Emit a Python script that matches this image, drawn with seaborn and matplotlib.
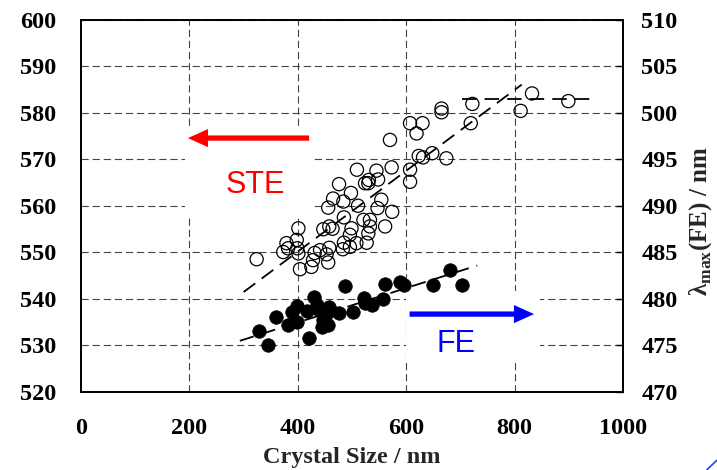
import matplotlib
matplotlib.use("Agg")
import matplotlib.pyplot as plt
import seaborn as sns
from matplotlib.patches import Rectangle, FancyArrowPatch
from matplotlib.lines import Line2D

# STE peak (left axis) vs crystal size
ste_size = [324, 373, 379, 382, 398, 401, 399, 401, 404, 425, 428, 431, 441, 447,
            453, 456, 458, 458, 464, 456, 465, 476, 484, 485, 483, 485, 496, 499,
            498, 496, 509, 511, 508, 521, 524, 530, 531, 527, 530, 533, 533, 545,
            548, 547, 554, 561, 570, 573, 574, 607, 607, 607, 619, 630, 623, 631,
            648, 674, 665, 665, 719, 722, 811, 832, 899]
ste_peak = [548.55, 550.1, 552.0, 550.9, 552.7, 555.2, 550.9, 549.8, 546.4, 546.9,
            548.35, 549.9, 550.5, 555.0, 549.6, 547.85, 551.0, 555.6, 555.1, 559.65,
            561.6, 564.7, 560.95, 557.55, 550.7, 552.1, 553.8, 555.2, 562.8, 551.2,
            567.8, 560.05, 552.0, 557.0, 564.9, 564.9, 565.6, 552.1, 554.1, 555.6,
            557.0, 567.6, 565.7, 559.55, 561.35, 555.6, 574.2, 568.3, 558.75, 567.8,
            565.2, 577.8, 575.6, 577.8, 570.75, 570.45, 571.35, 570.25, 580.95, 580.15,
            577.8, 581.95, 580.45, 584.2, 582.55]

# FE peak (right axis) vs crystal size
fe_size = [329, 345, 360, 381, 389, 398, 399, 417, 420, 429, 435, 438, 444, 447,
           456, 457, 460, 453, 476, 487, 501, 522, 524, 536, 557, 561, 588, 596,
           649, 681, 702]
fe_peak = [476.55, 475.05, 478.05, 477.15, 478.65, 479.25, 477.55, 478.75, 475.85,
           480.25, 479.35, 478.95, 476.95, 477.75, 477.15, 479.15, 478.85, 478.45,
           478.45, 481.35, 478.65, 480.1, 479.55, 479.35, 479.95, 481.65, 481.8,
           481.45, 481.45, 483.1, 481.55]

# trend lines
ste_fit_x = [300, 813]
ste_fit_y = [541.5, 586.1]
ste_flat_x = [702, 948]
ste_flat_y = [582.95, 582.95]
fe_fit_x = [293, 731]
fe_fit_y = [475.5, 483.6]

x_ticks = [0, 200, 400, 600, 800, 1000]
left_ticks = [520, 530, 540, 550, 560, 570, 580, 590, 600]
right_ticks = [470, 475, 480, 485, 490, 495, 500, 505, 510]

sns.set_theme(style="white")
plt.rcParams["font.family"] = ["Liberation Serif", "DejaVu Serif"]
plt.rcParams["font.weight"] = "bold"
plt.rcParams["mathtext.fontset"] = "custom"
plt.rcParams["mathtext.rm"] = "Liberation Serif"
plt.rcParams["mathtext.bf"] = "Liberation Serif:bold"

fig = plt.figure(figsize=(7.17, 4.70), dpi=100)
ax = fig.add_axes([0.113, 0.166, 0.756, 0.7915])
ax2 = ax.twinx()

grid_kw = dict(color="#444444", lw=0.8, linestyle=(0, (6.5, 3.5)))
ax.set_axisbelow(True)
ax.grid(True, axis="y", **grid_kw)
for xv in x_ticks[1:-1]:
    ax.axvline(xv, zorder=0.5, **grid_kw)

# white label boxes that hide the grid
ax.add_patch(Rectangle((192, 558.0), 238, 18.8, facecolor="white",
                       edgecolor="none", zorder=1))
ax.add_patch(Rectangle((600, 526.2), 246, 15.6, facecolor="white",
                       edgecolor="none", zorder=1))

sns.scatterplot(x=ste_size, y=ste_peak, ax=ax, marker="o", s=90,
                facecolor="none", edgecolor="black", linewidth=0.9, zorder=3)
sns.lineplot(x=ste_fit_x, y=ste_fit_y, ax=ax, color="black", lw=1.3,
             linestyle=(0, (8, 4.5)), zorder=2)
sns.lineplot(x=ste_flat_x, y=ste_flat_y, ax=ax, color="black", lw=1.3,
             linestyle=(0, (8, 4.5)), zorder=2)

sns.scatterplot(x=fe_size, y=fe_peak, ax=ax2, marker="o", s=95,
                color="black", edgecolor="black", linewidth=0.5, zorder=3)
sns.lineplot(x=fe_fit_x, y=fe_fit_y, ax=ax2, color="black", lw=1.3,
             linestyle=(0, (8, 4.5)), zorder=2)

ax.set_xlim(0, 1000)
ax.set_ylim(520, 600)
ax2.set_ylim(470, 510)
ax.set_xticks(x_ticks)
ax.set_yticks(left_ticks)
ax2.set_yticks(right_ticks)

for a in (ax, ax2):
    for sp in a.spines.values():
        sp.set_visible(True)
        sp.set_color("black")
        sp.set_linewidth(1.3)
ax.tick_params(axis="x", direction="in", length=5, width=1, pad=19,
               labelsize=17.5, colors="black")
ax.tick_params(axis="y", direction="in", length=0, pad=18, labelsize=17.5,
               colors="black")
ax2.tick_params(axis="y", direction="in", length=5, width=1, pad=13,
                labelsize=17.5, colors="black")
for lab in ax.get_xticklabels() + ax.get_yticklabels() + ax2.get_yticklabels():
    lab.set_fontweight("bold")

ax.set_xlabel("Crystal Size / nm", fontsize=17.5, fontweight="bold")
ax.xaxis.set_label_coords(0.5, -0.148)
ax2.set_ylabel(r"λ$_{\mathrm{max}}$(FE) / nm", fontsize=18, fontweight="bold",
               rotation=90)
ax2.yaxis.set_label_coords(1.118, 0.46)

# arrows and labels
ax.add_patch(FancyArrowPatch((426, 574.6), (192, 574.6),
                             arrowstyle="simple,head_length=1.45,head_width=1.3,tail_width=0.38",
                             mutation_scale=10, color="#ff0000", lw=0, zorder=4))
ax.add_patch(FancyArrowPatch((601, 536.75), (841, 536.75),
                             arrowstyle="simple,head_length=1.45,head_width=1.3,tail_width=0.38",
                             mutation_scale=10, color="#0000ff", lw=0, zorder=4))
ax.text(321, 564.5, "STE", color="#ff0000", fontsize=22, family="Liberation Sans",
        fontweight="normal", ha="center", va="center", zorder=4)
ax.text(691, 530.3, "FE", color="#0000ff", fontsize=22, family="Liberation Sans",
        fontweight="normal", ha="center", va="center", zorder=4)

fig.add_artist(Line2D([0.9856, 1.0], [0.0, 0.021], color="#2040ff", lw=1.2))

fig.savefig("out.png", dpi=100)
